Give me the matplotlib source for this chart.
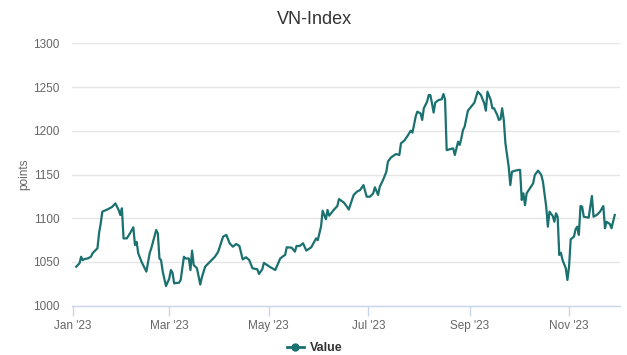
"""
VN-Index 2023 daily close, Highcharts-like styling.
"""
import matplotlib
matplotlib.use("Agg")
import matplotlib.pyplot as plt
from matplotlib.lines import Line2D
import pandas as pd

plt.rcParams["font.family"] = ["Liberation Sans", "DejaVu Sans"]

# days counted from 2023-01-01
DAY_OFFSETS = [
    2, 4, 5, 6, 7, 9, 11, 12, 15, 16, 17, 18, 21, 24, 26, 28, 29, 30,
    31, 33, 35, 37, 38, 39, 40, 42, 45, 47, 48, 51, 52, 53, 54, 55, 57,
    59, 60, 61, 62, 65, 66, 68, 69, 71, 72, 73, 74, 76, 78, 79, 81, 83,
    87, 89, 92, 94, 96, 98, 100, 102, 104, 106, 108, 110, 113, 114, 116, 117,
    121, 124, 127, 129, 130, 131, 134, 136, 137, 139, 141, 143, 146, 149, 150,
    152, 153, 155, 156, 157, 160, 162, 163, 166, 168, 169, 172, 174, 176, 178,
    180, 182, 184, 185, 187, 188, 190, 192, 193, 195, 198, 200, 201, 203, 205,
    207, 208, 209, 210, 211, 213, 214, 215, 217, 218, 219, 220, 221, 222, 224,
    226, 227, 228, 229, 231, 233, 234, 236, 237, 238, 239, 240, 242, 244, 246,
    248, 250, 252, 253, 254, 256, 257, 258, 260, 261, 262, 263, 264, 265, 267,
    268, 269, 271, 273, 274, 275, 276, 277, 278, 280, 282, 283, 285, 287, 288,
    290, 291, 292, 294, 295, 296, 297, 298, 299, 300, 302, 303, 304, 305, 307,
    308, 309, 310, 311, 312, 313, 316, 317, 318, 319, 321, 323, 325, 326, 327,
    329, 330, 332,
]
VALUES = [
    1044.6, 1048.5, 1056.0, 1052.0, 1053.4, 1054.0, 1056.0, 1060.0, 1065.7, 1083.0,
    1094.0, 1107.6, 1110.0, 1113.0, 1117.0, 1109.5, 1103.8, 1111.4,
    1077.0, 1077.0, 1083.0, 1089.7, 1069.4, 1073.0, 1060.0, 1050.3, 1039.0, 1060.0,
    1065.7, 1086.6, 1082.8, 1054.0, 1052.0, 1039.0, 1022.5,
    1031.0, 1040.8, 1037.8, 1025.6, 1026.3, 1029.4, 1056.0, 1054.0, 1054.0, 1040.8,
    1063.0, 1046.5, 1042.8, 1024.2, 1032.5, 1044.6, 1048.5,
    1056.0, 1061.8, 1079.0, 1081.0, 1071.4, 1067.5, 1070.6, 1068.3, 1053.0, 1055.4,
    1052.3, 1042.8, 1041.6, 1036.3, 1041.6, 1049.0,
    1044.0, 1040.8, 1054.0, 1056.9, 1058.0, 1066.8, 1066.4, 1061.8, 1068.3, 1068.3,
    1071.4, 1063.0, 1066.8, 1077.0, 1075.0,
    1090.4, 1108.7, 1098.9, 1109.5, 1103.0, 1110.0, 1114.0, 1122.0, 1118.0, 1113.0,
    1110.0, 1126.7, 1130.4, 1132.4, 1138.0,
    1124.7, 1124.7, 1128.6, 1135.5, 1126.7, 1136.0, 1143.8, 1153.0, 1164.8, 1169.8,
    1173.6, 1172.4, 1185.8, 1188.8, 1194.2,
    1200.2, 1198.0, 1206.8, 1216.3, 1222.0, 1220.0, 1212.5, 1225.9, 1233.4, 1241.0,
    1241.0, 1231.6, 1221.0, 1232.3, 1235.3,
    1236.2, 1242.2, 1236.2, 1178.0, 1179.0, 1180.0, 1172.4, 1187.6, 1184.0, 1191.5,
    1201.0, 1204.8, 1223.1, 1227.7, 1232.3,
    1244.9, 1241.0, 1231.6, 1223.1, 1244.9, 1235.3, 1225.9, 1225.9, 1218.2, 1212.5,
    1213.3, 1225.9, 1212.5, 1185.8, 1159.0,
    1138.0, 1153.3, 1154.5, 1155.3, 1155.3, 1121.0, 1128.6, 1115.0, 1128.6, 1134.3,
    1140.0, 1149.5, 1154.5, 1149.5, 1141.8,
    1113.3, 1090.4, 1107.6, 1102.6, 1096.0, 1105.7, 1101.8, 1058.0, 1060.6, 1052.3,
    1042.8, 1029.4, 1044.6, 1076.0, 1079.0,
    1087.4, 1090.4, 1081.0, 1114.0, 1113.3, 1101.8, 1100.7, 1113.3, 1125.5, 1101.8,
    1103.8, 1107.6, 1114.0, 1088.6, 1096.0,
    1093.5, 1088.6, 1103.8,
]
Y_TICKS = [1000, 1050, 1100, 1150, 1200, 1250, 1300]
X_TICK_DATES = ["2023-01-01", "2023-03-01", "2023-05-01", "2023-07-01", "2023-09-01", "2023-11-01"]
X_TICK_LABELS = ["Jan '23", "Mar '23", "May '23", "Jul '23", "Sep '23", "Nov '23"]

LINE_COLOR = "#1b7070"
GRID_COLOR = "#e6e6e6"
AXIS_COLOR = "#ccd6eb"
LABEL_COLOR = "#666666"

start = pd.Timestamp("2023-01-01")
dates = start + pd.to_timedelta(DAY_OFFSETS, unit="D")

fig = plt.figure(figsize=(6.27, 3.55), dpi=100)
ax = fig.add_axes([0.1148, 0.1389, 0.874, 0.7386])

ax.plot(dates, VALUES, color=LINE_COLOR, lw=1.6, solid_joinstyle="round")

ax.set_ylim(1000, 1300)
ax.set_yticks(Y_TICKS)
ax.set_xlim(start - pd.Timedelta(days=0.6), start + pd.Timedelta(days=335.2))
ax.set_xticks(pd.to_datetime(X_TICK_DATES))
ax.set_xticklabels(X_TICK_LABELS)

ax.grid(axis="y", color=GRID_COLOR, lw=1)
ax.set_axisbelow(True)
for side in ("top", "right", "left"):
    ax.spines[side].set_visible(False)
ax.spines["bottom"].set_color(AXIS_COLOR)
ax.spines["bottom"].set_linewidth(1)

ax.tick_params(axis="y", length=0, pad=9, labelsize=8.5, labelcolor=LABEL_COLOR)
ax.tick_params(axis="x", length=7, width=1, color=AXIS_COLOR, pad=3,
               labelsize=8.5, labelcolor=LABEL_COLOR)

ax.set_ylabel("points", color=LABEL_COLOR, fontsize=8.5, labelpad=2)
fig.text(0.502, 0.945, "VN-Index", ha="center", va="center", fontsize=13, color="#333333")

handle = Line2D([0], [0], color=LINE_COLOR, lw=2, marker="o", markersize=5)
fig.legend([handle], ["Value"], loc="center", bbox_to_anchor=(0.502, 0.019),
           frameon=False, handlelength=1.4, handletextpad=0.5,
           prop={"size": 9, "weight": "bold"}, labelcolor="#333333")

fig.savefig("out.png", dpi=100)
plt.close(fig)
